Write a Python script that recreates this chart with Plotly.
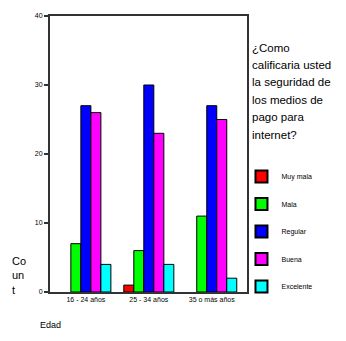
import plotly.graph_objects as go

# Age groups on the x axis
edades = ["16 - 24 años", "25 - 34 años", "35 o más años"]

# Rating categories (legend) and their counts per age group
calificaciones = ["Muy mala", "Mala", "Regular", "Buena", "Excelente"]
muy_mala = [0, 1, 0]
mala = [7, 6, 11]
regular = [27, 30, 27]
buena = [26, 23, 25]
excelente = [4, 4, 2]

# Legend heading, one entry per printed line
titulo_leyenda = ["¿Como", "calificaria usted", "la seguridad de",
                  "los medios de", "pago para", "internet?"]

series = [muy_mala, mala, regular, buena, excelente]
colores = ["#ff0000", "#00ff00", "#0000ff", "#ff00ff", "#00ffff"]

fig = go.Figure()
for i, (nombre, valores, color) in enumerate(zip(calificaciones, series, colores)):
    # empty categories get no outline so nothing shows on the baseline
    anchos = [1 if v else 0 for v in valores]
    fig.add_trace(go.Bar(
        x=edades, y=valores, name=nombre,
        legendgroup=f"g{i}",
        marker=dict(color=color, line=dict(color="#000000", width=anchos)),
    ))

# plot area spans 279 px vertically; heading lines are 17.6 px apart
PLOT_H = 279.0
anotaciones = []
for k, linea in enumerate(titulo_leyenda):
    y_px = 45 + k * 17.6          # distance from the top of the page
    anotaciones.append(dict(
        text=linea, xref="paper", yref="paper",
        x=1.015, y=(292 - y_px) / PLOT_H, xanchor="left", yanchor="middle",
        showarrow=False, align="left", font=dict(size=11.5, color="black"),
    ))

anotaciones += [
    dict(text="Co<br>un<br>t", xref="paper", yref="paper",
         x=-0.155, y=0.06, xanchor="center", yanchor="middle",
         showarrow=False, align="left", font=dict(size=11, color="black")),
    dict(text="Edad", xref="paper", yref="paper",
         x=0.0, y=-0.12, xanchor="center", yanchor="middle",
         showarrow=False, font=dict(size=9, color="black")),
]

fig.update_layout(
    width=346, height=341,
    margin=dict(l=50, r=99, t=13, b=49),
    paper_bgcolor="white", plot_bgcolor="white",
    barmode="group", bargap=0.205, bargroupgap=0,
    font=dict(family="Liberation Sans", color="black"),
    showlegend=True,
    legend=dict(
        x=0.972, xanchor="left", y=0.471, yanchor="top",
        traceorder="grouped", tracegroupgap=8.5,
        font=dict(size=7, color="black"),
        itemsizing="constant",
        bgcolor="rgba(0,0,0,0)", borderwidth=0,
    ),
    xaxis=dict(
        type="category", range=[-0.57, 2.56],
        showline=True, linecolor="#333333", linewidth=2, mirror=True,
        ticks="", showgrid=False,
        tickfont=dict(size=7, color="black"),
    ),
    yaxis=dict(
        range=[0, 40], tickvals=[0, 10, 20, 30, 40],
        showline=True, linecolor="#333333", linewidth=2, mirror=True,
        ticks="outside", ticklen=4, tickcolor="#333333", tickwidth=2,
        showgrid=False, zeroline=False,
        tickfont=dict(size=7, color="black"),
    ),
    annotations=anotaciones,
)

fig.write_html("out.html")
